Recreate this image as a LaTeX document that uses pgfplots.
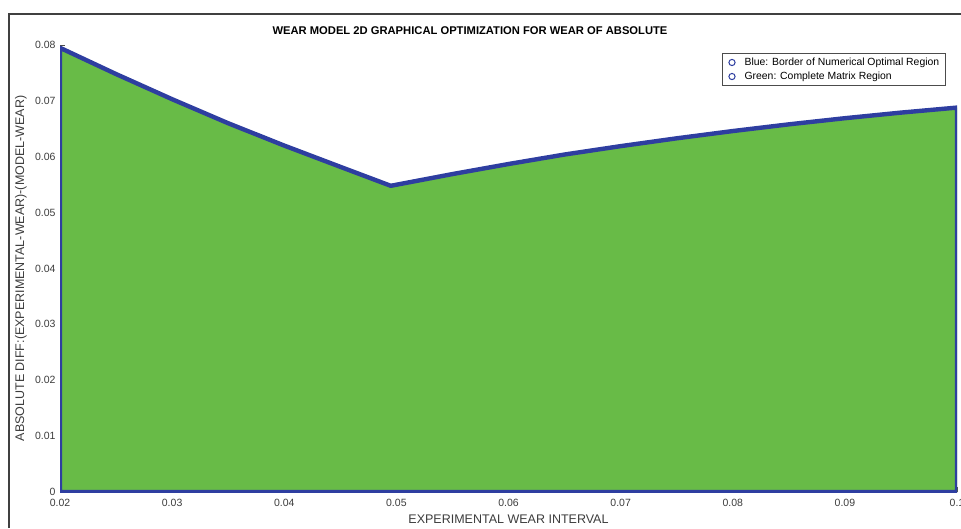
\documentclass[border=0pt]{standalone}
\usepackage{pgfplots}
\pgfplotsset{compat=1.18}
\usepackage{fontspec}
\setmainfont{Liberation Sans}

\definecolor{regiongreen}{RGB}{104,187,71}
\definecolor{borderblue}{RGB}{46,62,160}
\definecolor{ticktext}{RGB}{60,60,60}

% open circle used as legend symbol
\newcommand{\legcircle}{\tikz[baseline=-3pt]\draw[borderblue, line width=1pt] (0,0) circle (3.1pt);}

\begin{document}
\begin{tikzpicture}[x=1pt,y=1pt]
  % page frame
  \useasboundingbox (0,0) rectangle (961,-528);
  \draw[line width=1.2pt, black!75] (9,-528) -- (9,-14) -- (961,-14);

  % title
  \node[font=\fontsize{11.2}{13}\selectfont\bfseries] at (470,-31)
    {WEAR MODEL 2D GRAPHICAL OPTIMIZATION FOR WEAR OF ABSOLUTE};

  \begin{axis}[
    at={(60pt,-492pt)}, anchor=south west,
    scale only axis, width=897pt, height=447pt,
    xmin=0.02, xmax=0.1, ymin=0, ymax=0.08,
    scaled x ticks=false, scaled y ticks=false,
    axis lines*=left,
    axis line style={draw=none},
    xtick={0.02,0.03,...,0.1},
    xticklabels={0.02,0.03,0.04,0.05,0.06,0.07,0.08,0.09,0.1},
    ytick={0,0.01,...,0.08},
    yticklabels={0,0.01,0.02,0.03,0.04,0.05,0.06,0.07,0.08},
    tick align=inside,
    major tick length=5pt,
    tick style={black!70, line width=0.8pt},
    tick label style={font=\fontsize{10.5}{12}\selectfont, text=ticktext},
    xticklabel style={yshift=-4pt},
    yticklabel style={xshift=-1pt},
    xlabel={EXPERIMENTAL WEAR INTERVAL},
    ylabel={ABSOLUTE DIFF:(EXPERIMENTAL-WEAR)-(MODEL-WEAR)},
    label style={font=\fontsize{12.5}{14}\selectfont, text=ticktext},
    xlabel style={at={(0.5,0)}, anchor=center, yshift=-27pt},
    ylabel style={at={(0,0.5)}, anchor=center, yshift=39pt},
    legend cell align=left,
    legend style={
      at={(0.738,0.982)}, anchor=north west,
      draw=black!70, line width=0.8pt,
      font=\fontsize{10.4}{11}\selectfont,
      inner xsep=4pt, inner ysep=2.5pt,
      row sep=1pt,
      /tikz/every even column/.append style={column sep=0pt},
      /tikz/every odd column/.append style={column sep=0pt},
      nodes={inner xsep=2pt},
    },
  ]
    % complete matrix region bounded by the optimal-region border
    \addplot[fill=regiongreen, draw=borderblue, line width=4.4pt,
             line join=round, forget plot] coordinates {
      (0.02,0) (0.02,0.0795)
      (0.025,0.0748) (0.03,0.0703) (0.035,0.0660) (0.04,0.0620)
      (0.045,0.0582) (0.0495,0.0548)
      (0.055,0.0569) (0.06,0.0587) (0.065,0.0604) (0.07,0.0619)
      (0.075,0.0633) (0.08,0.0646) (0.085,0.0658) (0.09,0.0669)
      (0.095,0.0679) (0.1,0.0688)
      (0.1,0)
    } -- cycle;

    \addlegendimage{empty legend}
    \addlegendentry{\legcircle\hspace{9pt}Blue: Border of Numerical Optimal Region}
    \addlegendimage{empty legend}
    \addlegendentry{\legcircle\hspace{9pt}Green: Complete Matrix Region}
  \end{axis}
\end{tikzpicture}
\end{document}
